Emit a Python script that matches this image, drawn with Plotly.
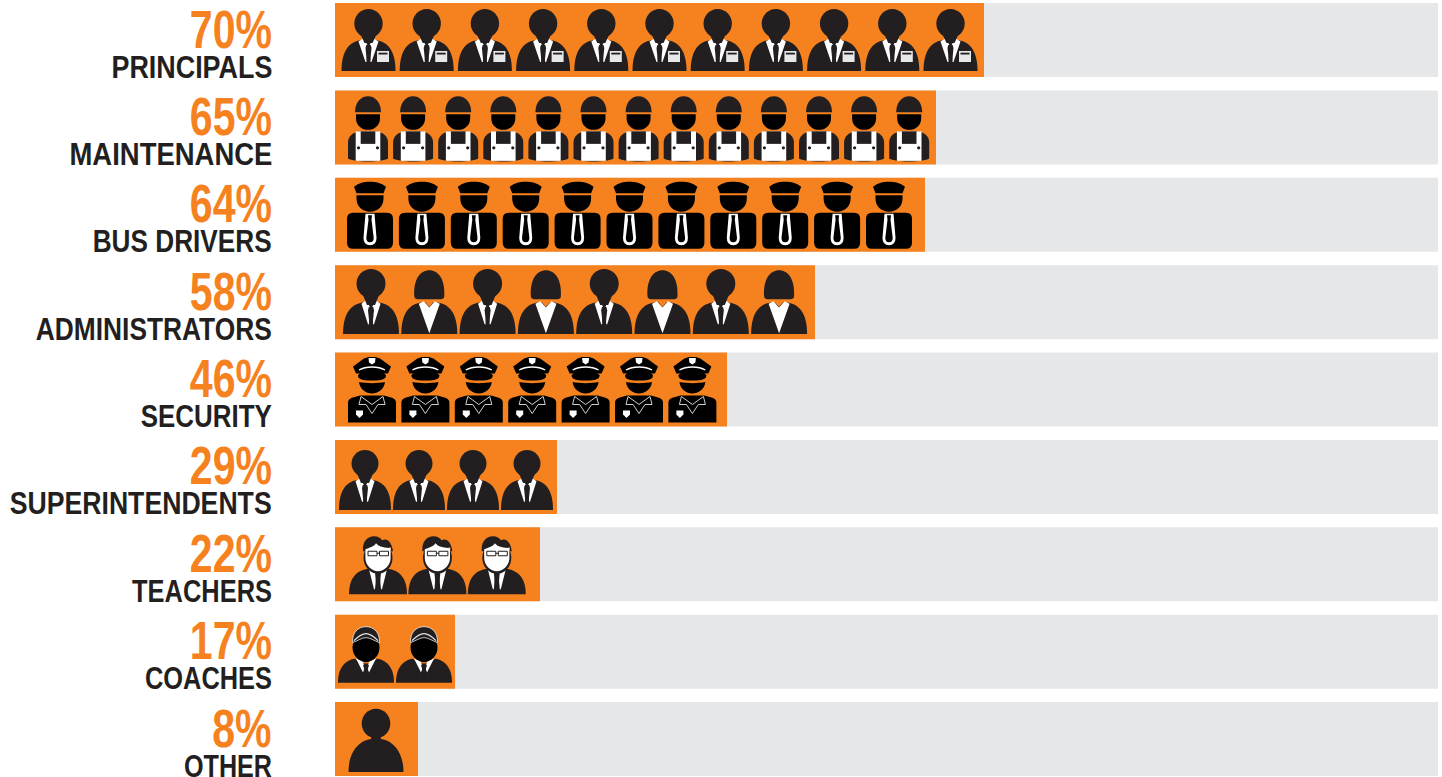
import json
import re
import plotly.graph_objects as go

# ---------- data ----------
roles = ["PRINCIPALS", "MAINTENANCE", "BUS DRIVERS", "ADMINISTRATORS", "SECURITY",
         "SUPERINTENDENTS", "TEACHERS", "COACHES", "OTHER"]
percents = [70, 65, 64, 58, 46, 29, 22, 17, 8]
bar_lengths = [649, 601, 590, 480, 392, 222, 205, 120, 83]
track_length = [1103] * 9
icon_counts = [11, 13, 11, 8, 7, 4, 3, 2, 1]

# ---------- style / layout ----------
ORANGE = "#f6821f"
DARK = "#231f20"
BLACK = "#000000"
WHITE = "#ffffff"
LIGHT = "#e6e7e9"
W, H = 1442, 777
X0 = 335
ROW_PITCH = 87.375
ROW0 = 40
BAR_H = 74
FONT = "Liberation Sans, Arial, sans-serif"
first_center = [368.5, 368, 370, 371, 372, 365, 378, 366, 376]
icon_step = [58.2, 45.1, 51.9, 58.3, 53.4, 54, 59.4, 58, 0]
label_px_width = [161, 203, 179, 236, 131, 262, 140, 127, 88]


def ell(cx, cy, rx, ry):
    k = 0.5523
    return (f"M{cx-rx} {cy} C{cx-rx} {cy-k*ry} {cx-k*rx} {cy-ry} {cx} {cy-ry} "
            f"C{cx+k*rx} {cy-ry} {cx+rx} {cy-k*ry} {cx+rx} {cy} "
            f"C{cx+rx} {cy+k*ry} {cx+k*rx} {cy+ry} {cx} {cy+ry} "
            f"C{cx-k*rx} {cy+ry} {cx-rx} {cy+k*ry} {cx-rx} {cy} Z")


def rect(x0, y0, x1, y1):
    return f"M{x0} {y0} L{x1} {y0} L{x1} {y1} L{x0} {y1} Z"


def mirror(path):
    out, is_x = [], True
    for t in re.findall(r"[MLCQZ]|-?\d+\.?\d*", path):
        if t in "MLCQZ":
            out.append(t)
            is_x = True
        else:
            out.append(str(-float(t)) if is_x else t)
            is_x = not is_x
    return " ".join(out)


def both(path):
    return path + " " + mirror(path)


def suit_body(hw, top, bottom):
    h = bottom - top
    return (f"M{-hw} {bottom} C{-hw} {top+h*0.3} {-hw*0.68} {top+1} {-hw*0.22} {top} "
            f"L{hw*0.22} {top} C{hw*0.68} {top+1} {hw} {top+h*0.3} {hw} {bottom} Z")


def suit(hw, top, bottom, head_y, head_ry, head_rx, collar=10, tie_end=None, white_end=None):
    """Head, shoulders, open white collar and a dark tie."""
    tie_end = tie_end or top + 24
    white_end = white_end or top + 22
    return [
        (DARK, suit_body(hw, top, bottom), None),
        (WHITE, both(f"M{-collar} {top+1.5} L-4.5 {top-2} L-1.2 {top+5} L-2 {white_end} L-3 {white_end} Z"), None),
        (DARK, ell(0, head_y, head_rx, head_ry), None),
        (DARK, f"M-10 {head_y+head_ry-8} L10 {head_y+head_ry-8} L4 {top+3} L-4 {top+3} Z", None),
        (DARK, f"M-2.2 {top+5} L2.2 {top+5} L3 {top+8} L1.7 {tie_end-3} L0 {tie_end} L-1.7 {tie_end-3} L-3 {top+8} Z", None),
    ]


principal = suit(27, 37, 68, 20.5, 14.5, 14.2) + [
    (LIGHT, rect(8.5, 48, 20.5, 59), None),
    (DARK, rect(10, 49.7, 19, 51.5), None),
]

maintenance = [
    (DARK, "M-13 22 C-13 12 -7 6 0 6 C7 6 13 12 13 22 Z", None),
    (BLACK, "M-12 24 L12 24 L12 28 C12 35 6 39.5 0 39.5 C-6 39.5 -12 35 -12 28 Z", None),
    (DARK, "M-20 68 L-20 52 C-20 45 -14 42 -10 41 L10 41 C14 42 20 45 20 52 L20 68 C14 72 -14 72 -20 68 Z", None),
    (WHITE, rect(-12.3, 41, 12.3, 70.5), None),
    (DARK, rect(-7.3, 41, 7.3, 53.5), None),
    (DARK, ell(-9.5, 57.5, 1.6, 1.6) + " " + ell(9.5, 57.5, 1.6, 1.6), None),
]

bus_driver = [
    (BLACK, "M-16 9 C-11 5 -6 4 0 4 C6 4 11 5 16 9 L13.5 15.5 L-13.5 15.5 Z", None),
    (BLACK, "M-13.5 17.5 L13.5 17.5 L13.5 21 C13.5 29 7 34 0 34 C-7 34 -13.5 29 -13.5 21 Z", None),
    (BLACK, "M-17 35 L17 35 Q23 35 23 41 L23 65 Q23 71 17 71 L-17 71 Q-23 71 -23 65 L-23 41 Q-23 35 -17 35 Z", None),
    (WHITE, "M-4.5 36 L4.5 36 L6.5 60 Q6.5 67.5 0 67.5 Q-6.5 67.5 -6.5 60 Z", None),
    (BLACK, "M-2 37.5 L2 37.5 L1.5 42 L3.7 60 Q3.7 64.5 0 64.5 Q-3.7 64.5 -3.7 60 L-1.5 42 Z", None),
]

admin_m = suit(28, 37, 69, 18.5, 14.5, 14.5, collar=9.5)
admin_f = [
    (DARK, "M-15 31 C-16 14 -9 5 0 5 C9 5 16 14 15 31 Q15 34 12 34 L-12 34 Q-15 34 -15 31 Z", None),
    (DARK, suit_body(28, 37, 69), None),
    (WHITE, "M-10.5 38.5 L-5.5 36 L0 42.5 L5.5 36 L10.5 38.5 L0 68 Z", None),
    (ORANGE, "M-6 35 L6 35 L0 42 Z", None),
]

security = [
    (BLACK, "M-19 14 L-8 6 L-3.5 4.5 L3.5 4.5 L8 6 L19 14 L16 21 L-16 21 Z", None),
    (WHITE, "M-3.5 5.5 L3.5 5.5 L3 10 L0 12 L-3 10 Z", None),
    (BLACK, "M-14 23 C-12 17 12 17 14 23 C14 28 5 28 0 28 C-5 28 -14 28 -14 23 Z", None),
    ("none", "M-13 17.5 C-6 13.5 6 13.5 13 17.5", (WHITE, 1.3)),
    (BLACK, "M-13 29.5 C-6 31 6 31 13 29.5 C12 37 6 41 0 41 C-6 41 -12 37 -13 29.5 Z", None),
    (BLACK, "M-24 70 L-24 50 C-24 46 -20 45 -12 43 L12 43 C20 45 24 46 24 50 L24 70 Z", None),
    ("none", both("M-11 44 L-13 52 L-6 52 L0 61"), (LIGHT, 0.9)),
    ("none", "M-11 44 L0 52 L11 44", (LIGHT, 0.9)),
    (WHITE, "M-16 58 L-9 58 L-9 62 L-12.5 65.5 L-16 62 Z", None),
]

superint = suit(26, 40, 70, 23.5, 13.5, 13.5, collar=9.5)

teacher = [
    (DARK, suit_body(29, 41, 67), None),
    (WHITE, both("M-9 42 L-4.5 38 L-1.5 46 L-3 62 L-4 62 Z"), None),
    (DARK, "M-2 44 L2 44 L2.8 47 L1.5 62 L0 65 L-1.5 62 L-2.8 47 Z", None),
    (DARK, ell(0, 30.5, 14.5, 16), None),
    (DARK, "M-15 24 C-16 14 -10 9 -4 9 C0 9 3 11 4 13 C9 10 14 15 15 24 L13 24 L13 20 C8 20 0 20 -2 15 C-5 20 -11 19 -13 24 Z", None),
    (WHITE, "M-12.6 22 C-9 20.5 -4 19.5 -2 16 C1 20 8 20.5 12.6 21 L12.6 31 C12.6 38 6 44 0 44 C-6 44 -12.6 38 -12.6 31 Z", None),
    (WHITE, rect(-10, 24, -1, 28.5), (DARK, 1)),
    (WHITE, rect(1.5, 24, 10.5, 28.5), (DARK, 1)),
    ("none", "M-1 26 L1.5 26", (DARK, 1)),
]

coach = [
    (DARK, suit_body(28, 43, 68), None),
    (ORANGE, ell(0, 33.5, 15, 15.5), None),
    (WHITE, both("M-10 44 L-4 46 L-1 52 L-3 58 Z"), None),
    (DARK, "M-3 50 L3 50 L2 54 L1 60 L-1 60 L-2 54 Z", None),
    (BLACK, ell(0, 33, 13.5, 14.5), None),
    (DARK, "M-13.5 28 C-14 18 -8 12 0 12 C8 12 14 18 13.5 28 C8 26 4 23 0 23 C-4 23 -8 26 -13.5 28 Z", (LIGHT, 0.8)),
    ("none", "M-12 26 C-7 21 -3 19 0 19 C3 19 7 21 12 26", (LIGHT, 1.2)),
]

other = [
    (DARK, ell(0, 21.5, 14.3, 14.7), None),
    (DARK, "M-4 32 L4 32 L5 37 C15 38 27.5 48 27.5 70 L-27.5 70 C-27.5 48 -15 38 -5 37 Z", None),
]

row_icons = [[principal], [maintenance], [bus_driver], [admin_m, admin_f], [security],
             [superint], [teacher], [coach], [other]]


def place(path, cx, row):
    out, is_x = [], True
    for t in re.findall(r"[MLCQZ]|-?\d+\.?\d*", path):
        if t in "MLCQZ":
            out.append(t)
            is_x = True
        elif is_x:
            out.append(f"{float(t) + cx - X0:.2f}")
            is_x = False
        else:
            out.append(f"{row + (float(t) - BAR_H / 2) / ROW_PITCH:.4f}")
            is_x = True
    return " ".join(out)


rows = list(range(len(roles)))
fig = go.Figure()
fig.add_bar(y=rows, x=track_length, orientation="h", marker=dict(color=LIGHT, line_width=0),
            width=BAR_H / ROW_PITCH, hoverinfo="skip")
fig.add_bar(y=rows, x=bar_lengths, orientation="h", marker=dict(color=ORANGE, line_width=0),
            width=BAR_H / ROW_PITCH, customdata=percents, hovertemplate="%{customdata}%<extra></extra>")

shapes = []
for r in rows:
    variants = row_icons[r]
    for k in range(icon_counts[r]):
        parts = variants[k % len(variants)]
        cx = first_center[r] + icon_step[r] * k
        for color, path, line in parts:
            shapes.append(dict(
                type="path", xref="x", yref="y", layer="above",
                path=place(path, cx, r),
                fillcolor=color if color != "none" else "rgba(0,0,0,0)",
                line=dict(color=line[0], width=line[1]) if line else dict(width=0),
            ))

annotations = []
for r in rows:
    annotations.append(dict(
        x=-61, y=r, xref="x", yref="y", xanchor="right", yanchor="middle", yshift=11, showarrow=False,
        text=f"{percents[r]}%", font=dict(family=FONT, size=53, color=ORANGE, weight=700)))
    annotations.append(dict(
        x=-61, y=r, xref="x", yref="y", xanchor="right", yanchor="middle", yshift=-26.5, showarrow=False,
        text=roles[r], font=dict(family=FONT, size=32, color=DARK, weight=700)))

fig.update_layout(
    width=W, height=H, autosize=False, margin=dict(l=0, r=0, t=0, b=0),
    paper_bgcolor="white", plot_bgcolor="white", barmode="overlay", showlegend=False,
    xaxis=dict(range=[-X0, W - X0], visible=False, fixedrange=True),
    yaxis=dict(range=[(H - ROW0) / ROW_PITCH, -ROW0 / ROW_PITCH], visible=False, fixedrange=True),
    shapes=shapes, annotations=annotations,
)

# page margin off; labels squeezed horizontally to the condensed look, pinned at their right edge
widths = json.dumps(dict(zip(roles, label_px_width)))
post = """
document.body.style.margin = '0';
var labelWidths = %s;
document.querySelectorAll('.annotation text.annotation-text').forEach(function (t) {
  var b = t.getBBox();
  var w = labelWidths[t.textContent];
  var s = w ? w / b.width : 0.775;
  var right = b.x + b.width;
  t.setAttribute('transform', 'translate(' + (right * (1 - s)) + ',0) scale(' + s + ',1)');
});
""" % widths
fig.write_html("out.html", config=dict(displayModeBar=False), default_width=W, default_height=H,
               post_script=post)
